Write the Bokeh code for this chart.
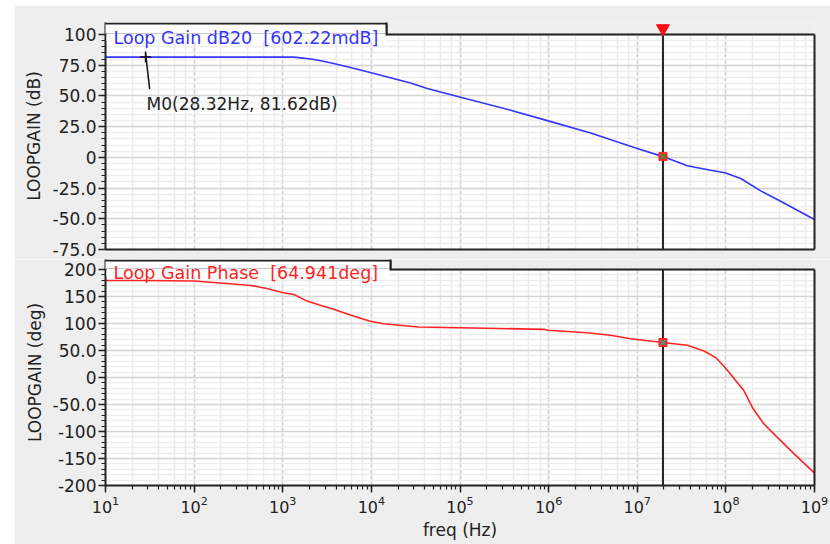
from bokeh.plotting import figure
from bokeh.layouts import column
from bokeh.models import (Range1d, FixedTicker, LogTicker, Label,
                          BoxAnnotation, ColumnDataSource, LinearAxis, LogAxis)
from bokeh.embed import file_html
from bokeh.resources import INLINE

# ---- loop-gain sweep (AC analysis) ----
gain_freq_hz = [10, 28.32, 100, 1e3, 1.33e3, 1.6e3, 2.07e3, 2.7e3, 3.75e3, 5.5e3,
                9e3, 2.77e4, 4.27e4, 9.9e4, 3.72e5, 9.9e5, 2.98e6, 1e7, 1.95e7,
                3.67e7, 6.73e7, 9.77e7, 1.47e8, 2.47e8, 3.81e8, 1e9]
gain_db = [81.62, 81.62, 81.62, 81.6, 81.55, 81.0, 80.1, 78.6, 76.4, 73.6,
           69.6, 60.6, 56.0, 49.2, 38.4, 29.7, 19.9, 7.2, 0.60222,
           -6.9, -10.5, -12.6, -17.2, -27.3, -34.3, -50.6]

phase_freq_hz = [10, 28.32, 100, 235, 436, 660, 1.02e3, 1.33e3, 1.6e3, 1.88e3,
                 2.7e3, 3.75e3, 5.78e3, 9.5e3, 1.37e4, 3.39e4, 1.01e5, 8.8e5,
                 9.9e5, 2.73e6, 5.0e6, 8.4e6, 1.95e7, 3.67e7, 5.67e7, 7.67e7,
                 9.8e7, 1.6e8, 1.99e8, 2.69e8, 3.81e8, 5.9e8, 1e9]
phase_deg = [179.7, 179.6, 178.8, 174.2, 170.5, 164.9, 156.8, 153.8, 147.5, 141.5,
             133.5, 126.2, 115.6, 104.6, 99.6, 93.5, 92.2, 89.2,
             87.4, 83.0, 78.2, 71.9, 64.941, 59.7, 49.2, 36.9,
             18.4, -24.6, -55.5, -86.1, -110.9, -141.5, -177.3]

# cursor at the unity-gain frequency and marker M0
cursor_freq = 1.95e7
cursor_gain_db = 0.60222
cursor_phase_deg = 64.941
m0_freq = 28.32
m0_gain_db = 81.62

gain_ticks = [-75, -50, -25, 0, 25, 50, 75, 100]
gain_tick_labels = ["-75.0", "-50.0", "-25.0", "0", "25.0", "50.0", "75.0", "100"]
gain_minor = list(range(-75, 101, 5))
phase_ticks = [-200, -150, -100, -50, 0, 50, 100, 150, 200]
phase_tick_labels = ["-200", "-150", "-100", "-50.0", "0", "50.0", "100", "150", "200"]
phase_minor = list(range(-200, 201, 10))

FONT = "DejaVu Sans"
TXT = "#222222"
EDGE = "#222222"
BLUE = "#3434ff"
RED = "#ff2424"
BG = "#eeeeee"

# strip (px) above each plot's value range that holds the trace tab
TAB_H = {"gain": 12, "phase": 10}
TAB_W = {"gain": 281, "phase": 285}

gain_src = ColumnDataSource(data=dict(f=gain_freq_hz, v=gain_db))
phase_src = ColumnDataSource(data=dict(f=phase_freq_hz, v=phase_deg))


def base_fig(height, top, bottom, y_lo, y_top):
    p = figure(width=816, height=height, x_axis_type="log", title=None,
               x_range=Range1d(10, 1e9), y_range=Range1d(y_lo, y_top),
               output_backend="svg", toolbar_location=None,
               min_border_left=91, min_border_right=16,
               min_border_top=top, min_border_bottom=bottom,
               x_axis_location="below" if bottom > 20 else None)
    p.background_fill_color = "white"
    p.border_fill_color = BG
    p.outline_line_color = None
    return p


def edge_axis(ax):
    # bare axis used only as a frame edge
    ax.ticker = FixedTicker(ticks=[])
    ax.axis_line_color = EDGE
    ax.axis_line_width = 2
    ax.major_tick_out = 0
    ax.minor_tick_out = 0
    ax.major_label_standoff = 0
    ax.major_label_text_font_size = "0px"
    return ax


def style_y(p, ticks, labels, minor, title, standoff, y_lo, y_hi):
    ax = p.yaxis[0]
    ax.ticker = FixedTicker(ticks=ticks, minor_ticks=minor)
    ax.major_label_overrides = {t: s for t, s in zip(ticks, labels)}
    ax.axis_label = title
    ax.axis_label_text_font = FONT
    ax.axis_label_text_font_size = "17px"
    ax.axis_label_text_font_style = "normal"
    ax.axis_label_text_color = TXT
    ax.axis_label_standoff = standoff
    ax.major_label_text_font = FONT
    ax.major_label_text_font_size = "17px"
    ax.major_label_text_color = TXT
    ax.major_label_standoff = 2
    ax.major_tick_in = 0
    ax.major_tick_out = 7
    ax.minor_tick_in = 0
    ax.minor_tick_out = 4
    ax.axis_line_color = EDGE
    ax.axis_line_width = 2
    ax.major_tick_line_color = EDGE
    ax.major_tick_line_width = 1.5
    ax.minor_tick_line_color = EDGE
    ax.minor_tick_line_width = 1.2
    g = p.ygrid[0]
    g.grid_line_color = "#d6d6d6"
    g.grid_line_width = 1.5
    g.minor_grid_line_color = "#ededed"
    g.minor_grid_line_width = 1.5
    p.add_layout(edge_axis(LinearAxis(bounds=(y_lo, y_hi))), "right")


def style_xgrid(p):
    for g in p.xgrid:
        g.ticker = LogTicker()
        g.grid_line_color = "#cfcfcf"
        g.grid_line_width = 1.5
        g.grid_line_dash = "4 2"
        g.minor_grid_line_color = "#ebebeb"
        g.minor_grid_line_width = 1.5


def add_tab(p, frame_h, tab_h, tab_w, y_hi, text, color):
    # grey strip right of the tab; its lower edge closes the frame top
    p.add_layout(BoxAnnotation(left=tab_w, right=1e12, bottom=y_hi, top=1e6,
                               left_units="screen", right_units="data",
                               bottom_units="data", top_units="data",
                               fill_color=BG, fill_alpha=1.0,
                               line_color=EDGE, line_width=2, line_alpha=1.0))
    # the tab itself
    p.add_layout(BoxAnnotation(left=-6, right=tab_w, bottom=y_hi, top=frame_h - 1,
                               left_units="screen", right_units="screen",
                               bottom_units="data", top_units="screen",
                               fill_color="white", fill_alpha=1.0,
                               line_color=EDGE, line_width=2, line_alpha=1.0))
    # open the tab into the plot area
    p.add_layout(BoxAnnotation(left=1, right=tab_w - 1,
                               bottom=frame_h - tab_h - 7, top=frame_h - tab_h + 1,
                               left_units="screen", right_units="screen",
                               bottom_units="screen", top_units="screen",
                               fill_color="white", fill_alpha=1.0, line_alpha=0))
    p.add_layout(Label(x=8, y=frame_h - tab_h - 3, x_units="screen", y_units="screen",
                       text=text, text_align="left", text_baseline="alphabetic",
                       text_font=FONT, text_font_size="17.5px", text_color=color))


def cursor_line(p, y_lo, y_hi):
    p.segment(x0=[cursor_freq], y0=[y_lo], x1=[cursor_freq], y1=[y_hi],
              line_color=EDGE, line_width=2)


# ---- magnitude ----
G_FRAME_H = 227
g_px_per_unit = (G_FRAME_H - TAB_H["gain"]) / 175.0
g_top = 100 + TAB_H["gain"] / g_px_per_unit
p1 = base_fig(254, 17, 10, -75, g_top)
style_y(p1, gain_ticks, gain_tick_labels, gain_minor, "LOOPGAIN (dB)", 6, -75, 100)
style_xgrid(p1)
p1.add_layout(edge_axis(LogAxis()), "below")
p1.line("f", "v", source=gain_src, line_color=BLUE, line_width=1.6)
cursor_line(p1, -75, 100)
p1.scatter([cursor_freq], [cursor_gain_db], marker="square", size=8,
           fill_color=RED, line_color=RED)
p1.scatter([cursor_freq], [cursor_gain_db], marker="x", size=7,
           line_color="#22aa44", line_width=1.5)
# marker M0 with its leader line and readout
p1.scatter([m0_freq], [m0_gain_db], marker="cross", size=11,
           line_color="#111111", line_width=1.5)
p1.segment(x0=[m0_freq], y0=[m0_gain_db + 3], x1=[31.5], y1=[55.5],
           line_color="#111111", line_width=1.5)
p1.add_layout(Label(x=m0_freq, y=m0_gain_db, x_offset=1, y_offset=-47,
                    text="M0(28.32Hz, 81.62dB)", text_font=FONT,
                    text_font_size="17px", text_color=TXT,
                    text_align="left", text_baseline="alphabetic"))
add_tab(p1, G_FRAME_H, TAB_H["gain"], TAB_W["gain"], 100,
        "Loop Gain dB20 \u00a0[602.22mdB]", BLUE)
# cursor handle above the magnitude plot
tri = p1.scatter([cursor_freq], [100 + 6 / g_px_per_unit], marker="inverted_triangle",
                 size=13, fill_color="#ff1010", line_color="#ff1010")
tri.level = "overlay"

# ---- phase ----
P_FRAME_H = 226
p_px_per_unit = (P_FRAME_H - TAB_H["phase"]) / 400.0
p_top = 200 + TAB_H["phase"] / p_px_per_unit
p2 = base_fig(285, 0, 59, -200, p_top)
style_y(p2, phase_ticks, phase_tick_labels, phase_minor, "LOOPGAIN (deg)", 5, -200, 200)
style_xgrid(p2)
xa = p2.xaxis[0]
xa.axis_label = "freq (Hz)"
xa.axis_label_text_font = FONT
xa.axis_label_text_font_size = "17px"
xa.axis_label_text_font_style = "normal"
xa.axis_label_text_color = TXT
xa.axis_label_standoff = 4
xa.major_label_text_font = FONT
xa.major_label_text_font_size = "16px"
xa.major_label_text_color = TXT
xa.major_label_standoff = 3
xa.major_tick_in = 0
xa.major_tick_out = 7
xa.minor_tick_in = 0
xa.minor_tick_out = 4
xa.axis_line_color = EDGE
xa.axis_line_width = 2
xa.major_tick_line_color = EDGE
xa.major_tick_line_width = 1.5
xa.minor_tick_line_color = EDGE
xa.minor_tick_line_width = 1.2
p2.line("f", "v", source=phase_src, line_color=RED, line_width=1.6)
cursor_line(p2, -200, 200)
p2.scatter([cursor_freq], [cursor_phase_deg], marker="square", size=8,
           fill_color=RED, line_color=RED)
p2.scatter([cursor_freq], [cursor_phase_deg], marker="x", size=7,
           line_color="#22aaaa", line_width=1.5)
add_tab(p2, P_FRAME_H, TAB_H["phase"], TAB_W["phase"], 200,
        "Loop Gain Phase \u00a0[64.941deg]", RED)

layout = column(p1, p2, spacing=0, margin=(5, 0, 0, 14))
open("out.html", "w").write(file_html(layout, INLINE))
